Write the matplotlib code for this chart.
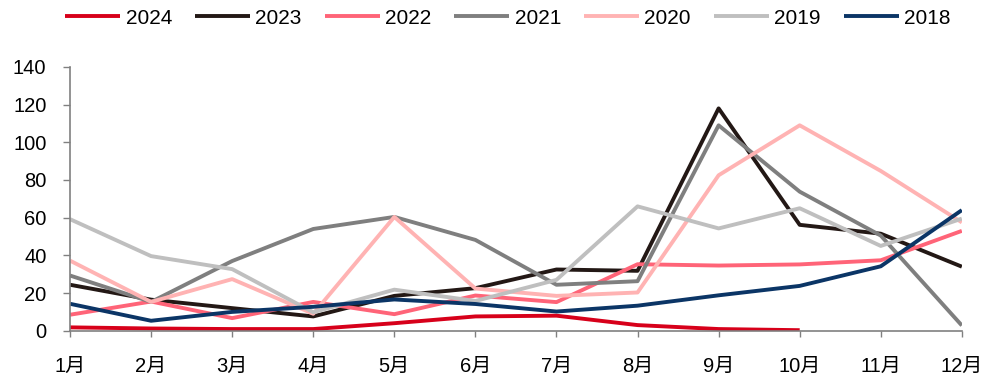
import matplotlib
matplotlib.use("Agg")
import matplotlib.pyplot as plt

plt.rcParams['font.family'] = ['Liberation Sans', 'Noto Sans CJK SC', 'DejaVu Sans']

months = ['1月', '2月', '3月', '4月', '5月', '6月', '7月', '8月', '9月', '10月', '11月', '12月']

y2024 = [1.8, 1.2, 0.9, 0.9, 4.0, 7.6, 8.0, 3.0, 0.9, 0.3]
y2023 = [24.4, 16.5, 12.0, 7.6, 18.5, 22.6, 32.5, 31.8, 118, 56.2, 51.5, 34]
y2022 = [8.5, 15.5, 6.7, 15.3, 8.8, 18.7, 15.2, 35.3, 34.6, 35.2, 37.4, 53]
y2021 = [29.3, 15.3, 37.0, 54, 60.4, 48.2, 24.4, 26.3, 109, 73.8, 50.5, 2.8]
y2020 = [37.2, 15.3, 27.4, 9.0, 60.4, 22.4, 18.5, 20.3, 82.5, 109, 84.8, 57.5]
y2019 = [59.2, 39.6, 32.7, 9.8, 21.8, 15.8, 27.0, 66.0, 54.3, 65.0, 45.0, 59.5]
y2018 = [14.3, 5.3, 10.0, 12.7, 16.6, 14.2, 10.2, 13.3, 18.8, 23.8, 34.2, 64]

series = [
    ('2024', y2024, '#D7001A'),
    ('2023', y2023, '#231815'),
    ('2022', y2022, '#FF6478'),
    ('2021', y2021, '#7F7F7F'),
    ('2020', y2020, '#FFB3B3'),
    ('2019', y2019, '#BFBFBF'),
    ('2018', y2018, '#0B3566'),
]

fig = plt.figure(figsize=(9.92, 3.78), dpi=100)
ax = fig.add_axes([0.0706, 0.125, 0.899, 0.698])

x = list(range(len(months)))
for name, vals, color in series:
    ax.plot(x[:len(vals)], vals, color=color, lw=2.8, label=name, solid_capstyle='butt')

ax.set_xlim(0, len(months) - 1)
ax.set_ylim(0, 140)
ax.set_yticks(range(0, 141, 20))
ax.set_xticks(x)
ax.set_xticklabels(months)

for side in ['top', 'right']:
    ax.spines[side].set_visible(False)
for side in ['left', 'bottom']:
    ax.spines[side].set_color('#808080')
    ax.spines[side].set_linewidth(1.2)

ax.tick_params(axis='y', length=5, width=1, color='#808080', labelsize=14.5, pad=12)
ax.tick_params(axis='x', length=4, width=1, color='#808080', labelsize=14.5, pad=15)

fig.legend(loc='center', bbox_to_anchor=(0.512, 0.952), ncol=7, frameon=False,
           fontsize=15, handlelength=2.65, handletextpad=0.25, columnspacing=1.1,
           borderpad=0)

fig.savefig('out.png', dpi=100)
